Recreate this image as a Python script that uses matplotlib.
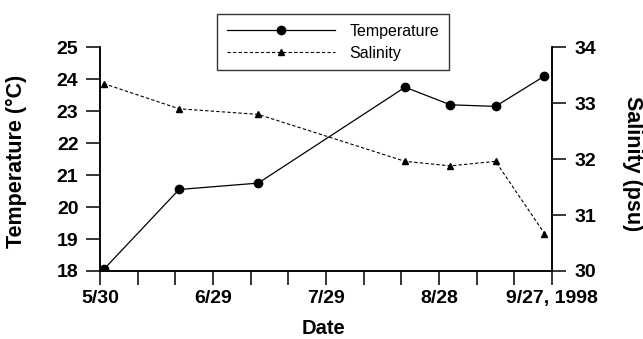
import matplotlib
matplotlib.use('Agg')
import matplotlib.pyplot as plt
import numpy as np

plt.rcParams['font.family'] = ['Liberation Sans', 'DejaVu Sans']

# sampling dates (1998) and measured values
dates = ['1998-05-31', '1998-06-20', '1998-07-11', '1998-08-19',
         '1998-08-31', '1998-09-12', '1998-09-25']
temperature = [18.05, 20.55, 20.75, 23.75, 23.2, 23.15, 24.1]
salinity = [33.35, 32.9, 32.8, 31.96, 31.88, 31.96, 30.67]

start = np.datetime64('1998-05-30')
tick_labels = ['5/30', '6/29', '7/29', '8/28', '9/27, 1998']

days = (np.array(dates, dtype='datetime64[D]') - start).astype(int)

fig = plt.figure(figsize=(6.43, 3.39), dpi=100)
ax = fig.add_axes([0.1555, 0.2006, 0.703, 0.66])
ax2 = ax.twinx()

l1, = ax.plot(days, temperature, '-', color='black', linewidth=0.9,
              marker='o', markersize=6, label='Temperature')
l2, = ax2.plot(days, salinity, color='black', linewidth=0.8,
               linestyle=(0, (3, 2)), marker='^', markersize=4,
               label='Salinity')

ax.set_xlim(0, 120)
ax.set_ylim(18, 25)
ax2.set_ylim(30, 34)

# ticks every 10 days, labels every 30
xt = np.arange(0, 121, 10)
ax.set_xticks(xt)
ax.set_xticklabels([tick_labels[i // 30] if i % 30 == 0 else '' for i in xt])
ax.set_yticks(range(18, 26))
ax2.set_yticks(range(30, 35))

for a in (ax, ax2):
    a.spines['top'].set_visible(False)
    for s in a.spines.values():
        s.set_linewidth(1.1)
    a.tick_params(length=10, width=1.1, labelsize=14)
    for lab in a.get_xticklabels() + a.get_yticklabels():
        lab.set_fontweight('bold')
ax.tick_params(axis='y', pad=5.5)
ax.tick_params(axis='x', pad=4)
ax2.tick_params(axis='y', pad=6.5)

ax.set_xlabel('Date', fontsize=14.5, fontweight='bold', va='center')
ax.xaxis.set_label_coords(0.494, -0.255)
ax.set_ylabel('Temperature (°C)', fontsize=15.5, fontweight='bold',
              va='center', ha='center')
ax.yaxis.set_label_coords(-0.184, 0.49)
ax2.set_ylabel('Salinity (psu)', fontsize=15.5, fontweight='bold',
               rotation=-90, va='center', ha='center')
ax2.yaxis.set_label_coords(1.178, 0.48)

leg = fig.legend(handles=[l1, l2], loc='upper left',
                 bbox_to_anchor=(217 / 643, 1 - 14 / 339), borderaxespad=0,
                 fontsize=11.5, handlelength=6.8, frameon=True, fancybox=False,
                 borderpad=0.6, labelspacing=0.45, handletextpad=0.9)
leg.get_frame().set_edgecolor('black')
leg.get_frame().set_linewidth(1.0)

fig.savefig('out.png', dpi=100)
